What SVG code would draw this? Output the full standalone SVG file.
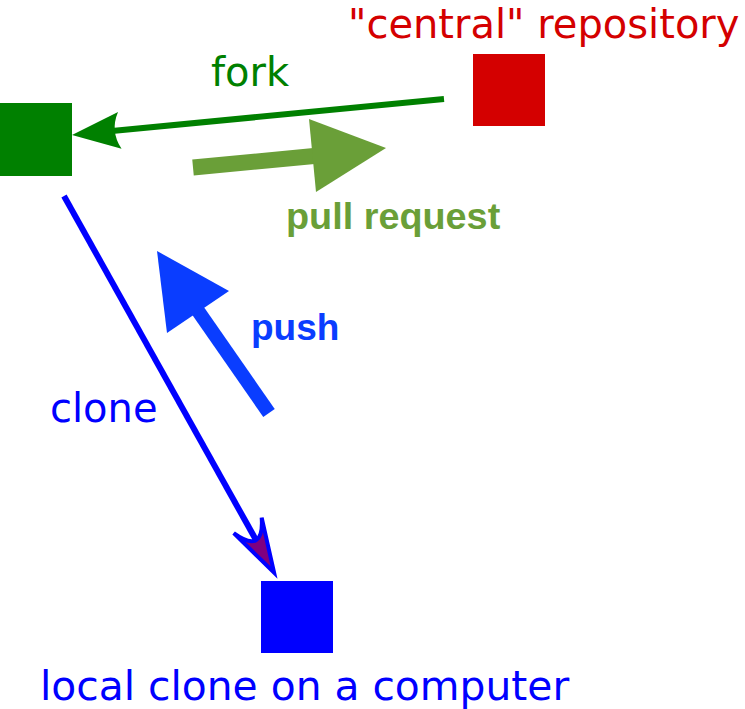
<svg xmlns="http://www.w3.org/2000/svg" width="745" height="709" viewBox="0 0 745 709">
<style>
.lbl{font-family:"DejaVu Sans",sans-serif;font-size:40px}
.bold{font-family:"Liberation Sans",Arial,sans-serif;font-weight:bold}
</style>
<rect width="745" height="709" fill="#fff"/>
<g id="central">
<rect x="473" y="54" width="72" height="72" fill="#d40000"/>
<text class="lbl" x="348" y="37.5" fill="#d40000">"central" repository</text>
</g>
<g id="fork-node">
<rect x="0" y="103" width="72" height="73" fill="#008000"/>
</g>
<g id="local">
<rect x="261" y="581" width="72" height="72" fill="#0000ff"/>
<text class="lbl" x="40" y="700" style="font-size:40.8px" fill="#0000ff">local clone on a computer</text>
</g>
<g id="connectors">
<g id="fork-edge">
<line x1="444" y1="99" x2="112" y2="131" stroke="#008000" stroke-width="6"/>
<path transform="translate(72,135) rotate(174.5)" d="M0,0 L-48,-18.5 Q-38,0 -48,18.5 Z" fill="#008000"/>
<text class="lbl" x="211" y="86" fill="#008000">fork</text>
</g>
<g id="pull-edge">
<line x1="193" y1="167.5" x2="314" y2="156" stroke="#6a9f38" stroke-width="16"/>
<polygon points="309,119 386,148 316,192" fill="#6a9f38"/>
<text class="bold" x="286" y="229" font-size="37.8" fill="#6a9f38">pull request</text>
</g>
<g id="push-edge">
<line x1="269" y1="413" x2="196" y2="308" stroke="#0a3dff" stroke-width="14"/>
<polygon points="157,251 229,291 167,333" fill="#0a3dff"/>
<text class="bold" x="251" y="340" font-size="37" fill="#0a3dff">push</text>
</g>
<g id="clone-edge">
<line x1="64" y1="196" x2="256" y2="540" stroke="#0000ff" stroke-width="6"/>
<path transform="translate(276,576) rotate(60.8)" d="M-4,0 L-58,-16 Q-24,0 -58,16 Z" fill="#800080" stroke="#0000ff" stroke-width="4"/>
<text class="lbl" x="50" y="422" fill="#0000ff">clone</text>
</g>
</g>
</svg>
